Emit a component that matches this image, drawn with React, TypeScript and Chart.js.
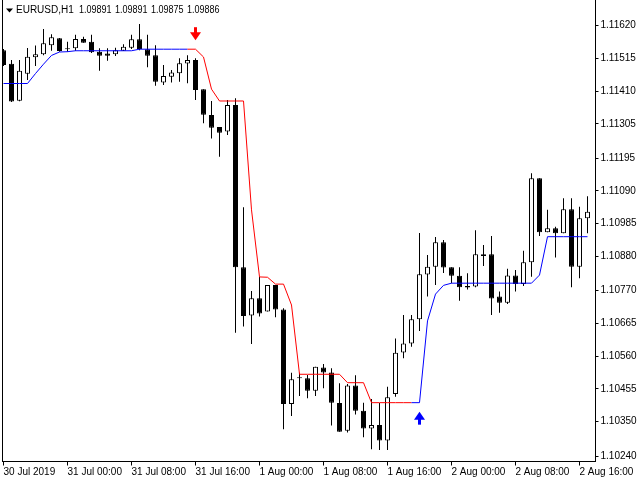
import React, { useEffect, useRef } from "react";
import { Chart, registerables } from "chart.js";

Chart.register(...registerables);

// EURUSD H1 candles, bar 0 = 30 Jul 2019 16:00
const openPrices = [
  1.11541, 1.11497, 1.11379, 1.11465, 1.11518, 1.11528, 1.11557, 1.11579, 1.11544, 1.11547,
  1.11577, 1.11568, 1.11536, 1.1153, 1.11528, 1.11539, 1.11549, 1.11576, 1.11544, 1.11525,
  1.11437, 1.11456, 1.11467, 1.11498, 1.11509, 1.11416, 1.11333, 1.11295, 1.1128, 1.11365,
  1.10845, 1.1069, 1.10746, 1.10703, 1.10788, 1.1071, 1.10407, 1.10489, 1.10489, 1.10449,
  1.10524, 1.10508, 1.1041, 1.10321, 1.10466, 1.10385, 1.10328, 1.10339, 1.1029, 1.10439,
  1.10572, 1.10601, 1.10678, 1.10822, 1.10847, 1.10925, 1.10845, 1.10818, 1.10785, 1.10783,
  1.10887, 1.10887, 1.10751, 1.10731, 1.10819, 1.10791, 1.10861, 1.1113, 1.10957, 1.1097,
  1.10954, 1.11031, 1.10847, 1.11002,
];
const highPrices = [
  1.11545, 1.11509, 1.11509, 1.11548, 1.11556, 1.11609, 1.11592, 1.1158, 1.11568, 1.1159,
  1.11584, 1.1159, 1.11547, 1.11547, 1.11549, 1.1156, 1.1159, 1.11625, 1.1159, 1.11557,
  1.11493, 1.11477, 1.11515, 1.11525, 1.11515, 1.11416, 1.11378, 1.11295, 1.11381, 1.11387,
  1.11037, 1.10769, 1.10815, 1.10788, 1.10788, 1.10714, 1.10507, 1.10507, 1.105, 1.10526,
  1.10535, 1.10521, 1.10473, 1.10471, 1.10499, 1.10411, 1.10423, 1.1041, 1.10462, 1.10617,
  1.10692, 1.10692, 1.10955, 1.10884, 1.10942, 1.10932, 1.10845, 1.10845, 1.10826, 1.10964,
  1.10916, 1.10945, 1.10767, 1.1084, 1.10836, 1.10898, 1.11146, 1.1113, 1.11029, 1.10975,
  1.11066, 1.11066, 1.11039, 1.11073,
];
const lowPrices = [
  1.1149, 1.11375, 1.11377, 1.11445, 1.1149, 1.11525, 1.11539, 1.11536, 1.11536, 1.11539,
  1.11565, 1.11532, 1.11475, 1.11507, 1.11522, 1.11538, 1.11545, 1.11541, 1.11486, 1.11427,
  1.11429, 1.11437, 1.1144, 1.11435, 1.11381, 1.11307, 1.11258, 1.11199, 1.11269, 1.10635,
  1.10655, 1.10599, 1.10687, 1.10703, 1.10685, 1.10326, 1.10368, 1.10432, 1.10425, 1.10432,
  1.10457, 1.10338, 1.10318, 1.10315, 1.10373, 1.103, 1.10262, 1.10259, 1.10259, 1.1043,
  1.10553, 1.1059, 1.10641, 1.10751, 1.10788, 1.10827, 1.10794, 1.10738, 1.10774, 1.10781,
  1.10849, 1.10692, 1.10699, 1.10727, 1.10767, 1.10785, 1.10815, 1.10945, 1.10957, 1.10876,
  1.10954, 1.10781, 1.1081, 1.10954,
];
const closePrices = [
  1.11493, 1.11376, 1.11475, 1.1152, 1.11528, 1.11563, 1.11582, 1.11538, 1.11546, 1.11577,
  1.11565, 1.11534, 1.11523, 1.11523, 1.11541, 1.11552, 1.11576, 1.11545, 1.11523, 1.1144,
  1.11458, 1.11469, 1.11499, 1.11509, 1.11413, 1.11334, 1.11292, 1.11276, 1.11365, 1.10845,
  1.10689, 1.10746, 1.10697, 1.10788, 1.1071, 1.10407, 1.10486, 1.10489, 1.10449, 1.10526,
  1.10508, 1.10411, 1.10318, 1.10466, 1.10385, 1.10328, 1.10339, 1.1029, 1.10428, 1.10571,
  1.10601, 1.10678, 1.10823, 1.10847, 1.10925, 1.10844, 1.10818, 1.10781, 1.1078, 1.10887,
  1.10881, 1.10745, 1.10731, 1.10819, 1.10791, 1.10861, 1.1113, 1.10957, 1.1097, 1.10954,
  1.11031, 1.10847, 1.11002, 1.11023,
];
// trend-following indicator line
const signalLine = [
  1.11434, 1.11434, 1.11434, 1.11434, 1.11466, 1.11496, 1.11524, 1.11535, 1.11536, 1.11539,
  1.11539, 1.11539, 1.11539, 1.11539, 1.11539, 1.11539, 1.11539, 1.11544, 1.11544, 1.11544,
  1.11544, 1.11544, 1.11544, 1.11544, 1.11544, 1.11519, 1.11416, 1.11378, 1.11378, 1.11378,
  1.11378, 1.11029, 1.10814, 1.10813, 1.10791, 1.10791, 1.10724, 1.10502, 1.10502, 1.10502,
  1.10502, 1.10502, 1.10502, 1.10475, 1.10475, 1.10475, 1.10411, 1.10411, 1.10411, 1.10411,
  1.10411, 1.10411, 1.10411, 1.10673, 1.10759, 1.10787, 1.10794, 1.10794, 1.10794, 1.10794,
  1.10794, 1.10794, 1.10794, 1.10794, 1.10794, 1.10794, 1.10794, 1.1082, 1.10943, 1.10943,
  1.10943, 1.10943, 1.10943, 1.10943,
];
// 1 = up (blue), -1 = down (red)
const trendDir = [
  1, 1, 1, 1, 1, 1, 1, 1, 1, 1, 1, 1, 1, 1, 1, 1, 1, 1, 1, 1, 1, 1, 1, 1,
  -1, -1, -1, -1, -1, -1, -1, -1, -1, -1, -1, -1, -1, -1, -1, -1, -1, -1, -1, -1, -1, -1, -1, -1, -1, -1, -1, -1,
  1, 1, 1, 1, 1, 1, 1, 1, 1, 1, 1, 1, 1, 1, 1, 1, 1, 1, 1, 1, 1, 1,
];
const sellArrowBars = [24];
const buyArrowBars = [52];

const xTickBars = [0, 8, 16, 24, 32, 40, 48, 56, 64, 72];
const xTickLabels = [
  "30 Jul 2019", "31 Jul 00:00", "31 Jul 08:00", "31 Jul 16:00", "1 Aug 00:00",
  "1 Aug 08:00", "1 Aug 16:00", "2 Aug 00:00", "2 Aug 08:00", "2 Aug 16:00",
];
const yTickLabels = [
  1.1162, 1.11515, 1.1141, 1.11305, 1.11195, 1.1109, 1.10985, 1.1088, 1.1077, 1.10665,
  1.1056, 1.10455, 1.1035, 1.1024,
];
const titleSymbol = "EURUSD,H1";
const titleQuotes = ["1.09891", "1.09891", "1.09875", "1.09886"];

const Y_MIN = 1.102224;
const Y_MAX = 1.117017;
const X_MIN = -0.125;
const X_MAX = 74.0;

const RED = "#ff0000";
const BLUE = "#0000ff";
const FONT = "'Liberation Sans', Arial, sans-serif";

const framePlugin = {
  id: "leftFrame",
  afterDraw(chart: any) {
    const { ctx, chartArea } = chart;
    ctx.save();
    ctx.strokeStyle = "#000";
    ctx.lineWidth = 1;
    const x = Math.floor(chartArea.left) + 0.5;
    ctx.beginPath();
    ctx.moveTo(x, 0);
    ctx.lineTo(x, chartArea.bottom);
    ctx.stroke();
    ctx.restore();
  },
};

const arrowPlugin = {
  id: "signalArrows",
  afterDatasetsDraw(chart: any) {
    const { ctx } = chart;
    const xs = chart.scales.x;
    const ys = chart.scales.y;
    ctx.save();
    sellArrowBars.forEach((i) => {
      const cx = xs.getPixelForValue(i);
      const tip = ys.getPixelForValue(signalLine[i]) - 9;
      ctx.fillStyle = RED;
      ctx.fillRect(cx - 1.5, tip - 13, 3, 6);
      ctx.beginPath();
      ctx.moveTo(cx - 5.5, tip - 8);
      ctx.lineTo(cx + 5.5, tip - 8);
      ctx.lineTo(cx, tip);
      ctx.closePath();
      ctx.fill();
    });
    buyArrowBars.forEach((i) => {
      const cx = xs.getPixelForValue(i);
      const tip = ys.getPixelForValue(signalLine[i]) + 9;
      ctx.fillStyle = BLUE;
      ctx.fillRect(cx - 1.5, tip + 7, 3, 6);
      ctx.beginPath();
      ctx.moveTo(cx - 5.5, tip + 8);
      ctx.lineTo(cx + 5.5, tip + 8);
      ctx.lineTo(cx, tip);
      ctx.closePath();
      ctx.fill();
    });
    ctx.restore();
  },
};

const titlePlugin = {
  id: "symbolTitle",
  afterDraw(chart: any) {
    const { ctx } = chart;
    ctx.save();
    ctx.fillStyle = "#000";
    ctx.beginPath();
    ctx.moveTo(6, 8.5);
    ctx.lineTo(13, 8.5);
    ctx.lineTo(9.5, 12.5);
    ctx.closePath();
    ctx.fill();
    ctx.font = "10px " + FONT;
    ctx.textBaseline = "middle";
    ctx.textAlign = "left";
    ctx.fillText(titleSymbol, 16, 10.5);
    titleQuotes.forEach((q, k) => {
      ctx.save();
      ctx.translate(79 + k * 36, 10.5);
      ctx.scale(0.9, 1);
      ctx.fillText(q, 0, 0);
      ctx.restore();
    });
    ctx.restore();
  },
};

export default function App() {
  const canvasRef = useRef<HTMLCanvasElement | null>(null);

  useEffect(() => {
    const canvas = canvasRef.current;
    if (!canvas) return;
    const bodyColors = openPrices.map((o, i) => (closePrices[i] < o ? "#000000" : "#ffffff"));
    const chart = new Chart(canvas, {
      type: "bar",
      data: {
        datasets: [
          {
            type: "line",
            label: "signal",
            data: signalLine.map((v, i) => ({ x: i, y: v })),
            borderColor: BLUE,
            borderWidth: 1,
            pointRadius: 0,
            tension: 0,
            fill: false,
            order: 0,
            segment: {
              borderColor: (c: any) => (trendDir[c.p1DataIndex] < 0 ? RED : BLUE),
            },
          } as any,
          {
            type: "bar",
            label: "body",
            data: openPrices.map((o, i) => ({ x: i, y: [o, closePrices[i]] })),
            backgroundColor: bodyColors,
            borderColor: "#000000",
            borderWidth: 1,
            borderSkipped: false,
            barThickness: 5,
            grouped: false,
            minBarLength: 1,
            inflateAmount: 0,
            order: 1,
          } as any,
          {
            type: "bar",
            label: "wick",
            data: lowPrices.map((l, i) => ({ x: i, y: [l, highPrices[i]] })),
            backgroundColor: "#000000",
            borderWidth: 0,
            barThickness: 1,
            grouped: false,
            inflateAmount: 0,
            order: 2,
          } as any,
        ],
      },
      options: {
        responsive: false,
        maintainAspectRatio: false,
        animation: false,
        devicePixelRatio: 1,
        events: [],
        layout: { padding: { left: 2.5, top: 0, right: 0, bottom: 0 } },
        plugins: {
          legend: { display: false },
          tooltip: { enabled: false },
          title: { display: false },
        },
        scales: {
          x: {
            type: "linear",
            min: X_MIN,
            max: X_MAX,
            offset: false,
            afterBuildTicks: (s: any) => {
              s.ticks = xTickBars.map((v) => ({ value: v }));
            },
            afterFit: (s: any) => {
              s.height = 18.5;
              s.paddingLeft = 0;
              s.paddingRight = 0;
              s.paddingTop = 0;
              s.paddingBottom = 0;
            },
            ticks: {
              autoSkip: false,
              maxRotation: 0,
              minRotation: 0,
              align: "start",
              padding: 1,
              color: "#000",
              font: { family: FONT, size: 10 },
              callback: (v: any) => {
                const k = xTickBars.indexOf(Number(v));
                return k >= 0 ? xTickLabels[k] : "";
              },
            },
            grid: {
              drawOnChartArea: false,
              offset: false,
              tickLength: 4,
              color: "#000",
              tickColor: "#000",
            },
            border: { display: true, color: "#000", width: 1 },
          },
          y: {
            type: "linear",
            position: "right",
            min: Y_MIN,
            max: Y_MAX,
            beginAtZero: false,
            afterBuildTicks: (s: any) => {
              s.ticks = yTickLabels.map((v) => ({ value: v }));
            },
            afterFit: (s: any) => {
              s.width = 44.5;
              s.paddingTop = 0;
              s.paddingBottom = 0;
              s.paddingLeft = 0;
              s.paddingRight = 0;
            },
            ticks: {
              padding: 2,
              color: "#000",
              font: { family: FONT, size: 10 },
              callback: (v: any) => Number(v).toFixed(5),
            },
            grid: {
              drawOnChartArea: false,
              tickLength: 3,
              color: "#000",
              tickColor: "#000",
            },
            border: { display: true, color: "#000", width: 1 },
          },
        },
      } as any,
      plugins: [framePlugin, arrowPlugin, titlePlugin],
    });
    return () => chart.destroy();
  }, []);

  return (
    <div style={{ position: "absolute", left: 0, top: 0, width: 640, height: 480, background: "#ffffff" }}>
      <canvas ref={canvasRef} width={640} height={480} style={{ display: "block", width: 640, height: 480 }} />
    </div>
  );
}
